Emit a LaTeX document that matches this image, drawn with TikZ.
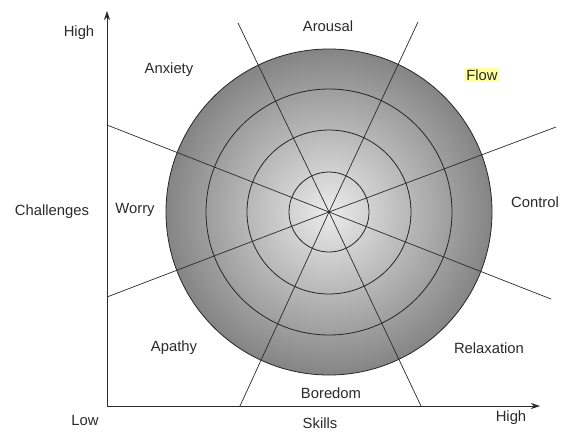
\documentclass[tikz,border=0pt]{standalone}
\usepackage{fontspec}
\setmainfont{Liberation Sans}
\usetikzlibrary{arrows.meta}
\definecolor{ink}{HTML}{2A2A2A}
\definecolor{flowhl}{HTML}{FFFF9E}
\begin{document}
\begin{tikzpicture}[x=1pt,y=-1pt,
  lbl/.style={font=\fontsize{14.8}{16}\selectfont, text=ink, inner sep=0pt},
  ring/.style={draw=black!85, line width=0.8pt},
  divider/.style={draw=ink, line width=0.7pt},
  axis/.style={draw=ink, line width=0.8pt, -{Stealth[length=9pt,width=6pt]}}]
\useasboundingbox (0,0) rectangle (562,432);
\coordinate (c) at (329,212);
% shaded disc
\shade[inner color=white!92!black, outer color=black!48] (c) circle[radius=163];
\foreach \r in {40,82,123,163} \draw[ring] (c) circle[radius=\r];
% divider lines
\coordinate (l1a) at (107,125); \coordinate (l1b) at (551,299);
\coordinate (l2a) at (107,297); \coordinate (l2b) at (556,127);
\coordinate (l3a) at (238,23);  \coordinate (l3b) at (421,406);
\coordinate (l4a) at (418,22);  \coordinate (l4b) at (240,406);
\draw[divider] (l1a) -- (c) -- (l1b);
\draw[divider] (l2a) -- (c) -- (l2b);
\draw[divider] (l3a) -- (c) -- (l3b);
\draw[divider] (l4a) -- (c) -- (l4b);
% axes
\coordinate (o) at (107,406);
\coordinate (ytip) at (107,11);
\coordinate (xtip) at (540,406);
\draw[axis] (o) -- (ytip);
\draw[axis] (o) -- (xtip);
% labels
\node[lbl] (hy) at (79,33) {High};
\node[lbl] (anx) at (169,70) {Anxiety};
\node[lbl] (aro) at (328,26) {Arousal};
\node[lbl, fill=flowhl, inner sep=1.5pt] (flo) at (482,75) {Flow};
\node[lbl] (cha) at (52,212) {Challenges};
\node[lbl] (wor) at (135,210) {Worry};
\node[lbl] (con) at (535,202) {Control};
\node[lbl] (apa) at (174,348) {Apathy};
\node[lbl] (rel) at (489,348) {Relaxation};
\node[lbl] (bor) at (331,393) {Boredom};
\node[lbl] (low) at (85,420) {Low};
\node[lbl] (ski) at (320,423) {Skills};
\node[lbl] (hx) at (511,418) {High};
\end{tikzpicture}
\end{document}
